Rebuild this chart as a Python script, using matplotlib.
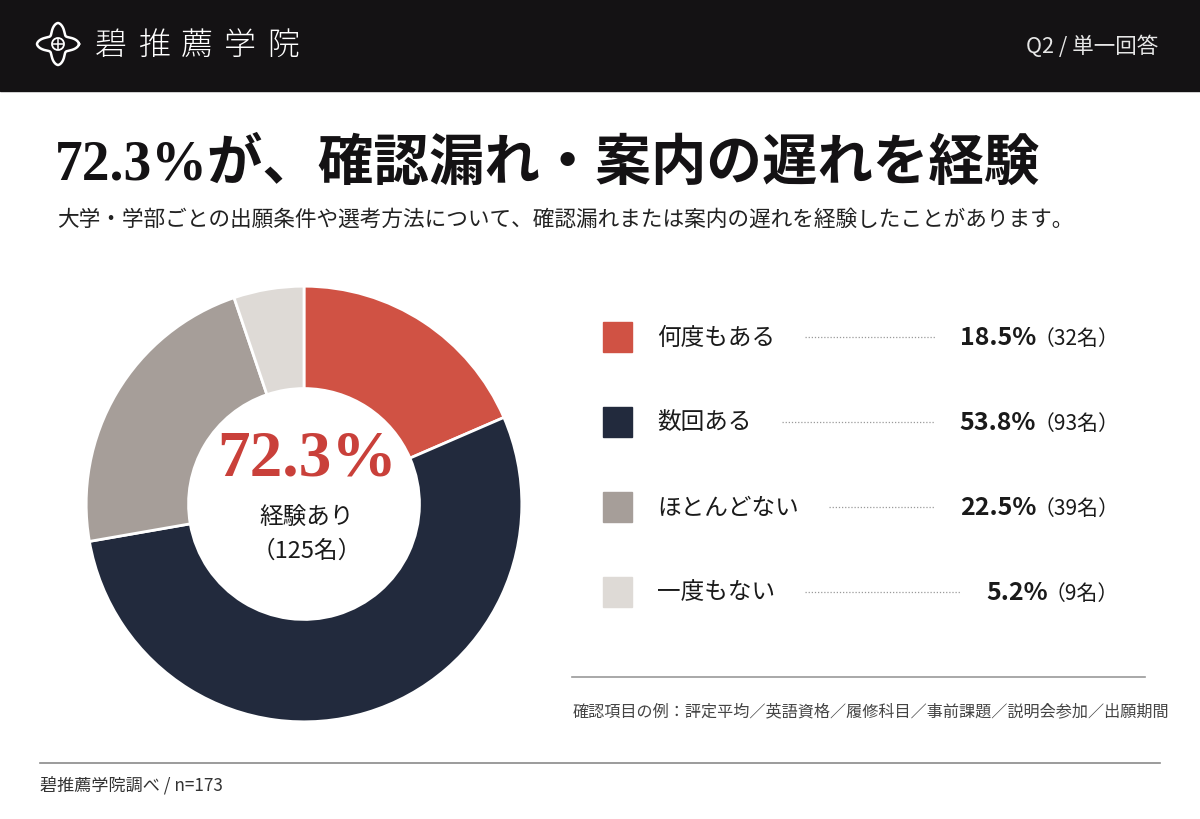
import numpy as np
import matplotlib
matplotlib.use("Agg")
import matplotlib.pyplot as plt
from matplotlib.patches import Rectangle, Circle

plt.rcParams['font.family'] = ['Noto Sans CJK JP', 'DejaVu Sans']

# data
labels = ['何度もある', '数回ある', 'ほとんどない', '一度もない']
pcts = [18.5, 53.8, 22.5, 5.2]
counts = [32, 93, 39, 9]
colors = ['#D05244', '#222A3D', '#A69E99', '#DEDAD6']
total_n = 173
exp_pct = 72.3
exp_n = 125

brand = '碧推薦学院'
title = '72.3%が、確認漏れ・案内の遅れを経験'
subtitle = '大学・学部ごとの出願条件や選考方法について、確認漏れまたは案内の遅れを経験したことがあります。'
note = '確認項目の例：評定平均／英語資格／履修科目／事前課題／説明会参加／出願期間'
source = '碧推薦学院調べ / n=' + str(total_n)

W, H = 1200, 820
fig = plt.figure(figsize=(W / 100, H / 100), dpi=100, facecolor='white')

# overlay axes in pixel coords
bg = fig.add_axes([0, 0, 1, 1])
bg.set_xlim(0, W)
bg.set_ylim(H, 0)
bg.axis('off')

# header band
bg.add_patch(Rectangle((0, 0), W, 92, color='#141214', zorder=0))

# logo: four-petal outline
t = np.linspace(0, 2 * np.pi, 600)
r = 21 - 10 * np.abs(np.sin(2 * t)) ** 1.6
bg.plot(58 + r * np.cos(t), 45 + r * np.sin(t), color='white', lw=1.8)
bg.add_patch(Circle((58, 45), 6, fill=False, ec='white', lw=1.3))
bg.plot([58, 58], [40, 50], color='white', lw=1.1)
bg.plot([53, 63], [45, 45], color='white', lw=1.1)
for i, ch in enumerate(brand):
    bg.text(95 + i * 43, 46, ch, color='white', fontsize=23, va='center', ha='left',
            fontweight='light')
bg.text(1158, 47, 'Q2 / 単一回答', color='#E6E6E6', fontsize=15.5, va='center', ha='right')

# title + subtitle
bg.text(55, 165, title, fontsize=40, fontweight='bold', color='#141214', va='center',
        family=['Liberation Serif', 'Noto Sans CJK JP'])
bg.text(57, 220, subtitle, fontsize=15.6, color='#222222', va='center')

# donut
ax = fig.add_axes([84 / W, (H - 725) / H, 440 / W, 440 / H])
ax.pie(counts, colors=colors, startangle=90, counterclock=False, radius=1,
       wedgeprops=dict(width=0.47, edgecolor='white', linewidth=2))
ax.set_xlim(-1.01, 1.01)
ax.set_ylim(-1.01, 1.01)
ax.set_aspect('equal')
ax.axis('off')

bg.text(307, 460, f'{exp_pct}%', fontsize=47, fontweight='bold', color='#C9403A',
        ha='center', va='center', family=['Liberation Serif'], zorder=5)
bg.text(307, 517, '経験あり', fontsize=17, color='#1a1a1a', ha='center', va='center', zorder=5)
bg.text(307, 551, f'（{exp_n}名）', fontsize=17, color='#1a1a1a', ha='center', va='center', zorder=5)

# legend rows
row_y = [338, 423, 508, 593]
fig.canvas.draw()
rend = fig.canvas.get_renderer()
for lab, p, c, col, y in zip(labels, pcts, counts, colors, row_y):
    bg.add_patch(Rectangle((603, y - 15), 29, 30, color=col))
    lt = bg.text(657, y, lab, fontsize=17, color='#1a1a1a', va='center')
    ct = bg.text(1119, y + 1, f'（{c}名）', fontsize=15, color='#1a1a1a', va='center', ha='right')
    fig.canvas.draw()
    cx0 = ct.get_window_extent(rend).x0
    vt = bg.text(cx0 + 3, y, f'{p}%', fontsize=18, fontweight='bold', color='#1a1a1a',
                 va='center', ha='right')
    fig.canvas.draw()
    lx1 = lt.get_window_extent(rend).x1
    vx0 = vt.get_window_extent(rend).x0
    bg.plot([lx1 + 30, vx0 - 25], [y, y], color='#9a9a9a', lw=0.9, linestyle=(0, (1, 1.5)))

# separator + note
bg.plot([572, 1145], [678, 678], color='#9a9a9a', lw=1.2)
bg.text(573, 712, note, fontsize=11.6, color='#444444', va='center')

# footer
bg.plot([40, 1160], [764, 764], color='#8a8a8a', lw=1.2)
bg.text(40, 786, source, fontsize=12.3, color='#333333', va='center')

fig.savefig('out.png', dpi=100, facecolor='white')
